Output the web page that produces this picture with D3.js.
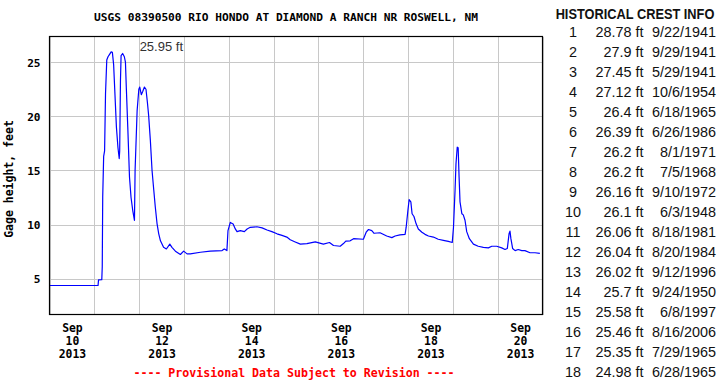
<!DOCTYPE html>
<html>
<head>
<meta charset="utf-8">
<script src="https://cdn.jsdelivr.net/npm/d3@7"></script>
<style>
  body { margin: 0; background: #fff; }
  .mono { font-family: "DejaVu Sans Mono", monospace; font-weight: bold; fill: #000; }
  .crest { font-family: "Liberation Sans", Arial, sans-serif; font-size: 14.4px; fill: #111; }
</style>
</head>
<body>
<script>

// gage readings (15-min data, thinned)
var gageTimes = [
  "09-10 00:00", "09-11 02:00", "09-11 02:15", "09-11 04:00", "09-11 04:15", "09-11 04:30",
  "09-11 05:00", "09-11 05:30", "09-11 06:00", "09-11 06:40", "09-11 07:20", "09-11 08:05",
  "09-11 09:00", "09-11 09:40", "09-11 10:20", "09-11 11:50", "09-11 12:40", "09-11 13:20",
  "09-11 13:35", "09-11 14:00", "09-11 14:20", "09-11 15:10", "09-11 16:05", "09-11 16:40",
  "09-11 17:10", "09-11 17:55", "09-11 18:50", "09-11 19:40", "09-11 20:35", "09-11 21:30",
  "09-11 21:50", "09-11 22:55", "09-11 23:50", "09-12 00:20", "09-12 01:10", "09-12 01:55",
  "09-12 02:50", "09-12 03:40", "09-12 04:25", "09-12 05:05", "09-12 06:00", "09-12 06:55",
  "09-12 07:50", "09-12 08:40", "09-12 09:35", "09-12 10:30", "09-12 11:25", "09-12 13:05",
  "09-12 14:35", "09-12 16:25", "09-12 17:35", "09-12 19:25", "09-12 22:05", "09-12 23:50",
  "09-13 01:40", "09-13 03:25", "09-13 08:50", "09-13 14:05", "09-13 20:25", "09-13 21:35",
  "09-13 23:00", "09-13 23:35", "09-14 00:50", "09-14 02:20", "09-14 03:30", "09-14 04:25",
  "09-14 06:10", "09-14 08:20", "09-14 09:50", "09-14 11:30", "09-14 15:05", "09-14 17:50",
  "09-14 20:30", "09-14 23:05", "09-15 01:50", "09-15 04:30", "09-15 07:05", "09-15 08:55",
  "09-15 11:35", "09-15 14:20", "09-15 17:50", "09-15 22:20", "09-16 02:40", "09-16 05:55",
  "09-16 08:05", "09-16 11:40", "09-16 13:25", "09-16 14:40", "09-16 17:00", "09-16 18:50",
  "09-17 00:05", "09-17 01:35", "09-17 02:50", "09-17 04:35", "09-17 05:50", "09-17 09:00",
  "09-17 12:35", "09-17 15:20", "09-17 17:05", "09-17 19:40", "09-17 22:25", "09-17 23:00",
  "09-17 23:55", "09-18 00:35", "09-18 01:30", "09-18 02:10", "09-18 03:10", "09-18 04:20",
  "09-18 05:30", "09-18 07:25", "09-18 09:05", "09-18 10:55", "09-18 13:35", "09-18 16:10",
  "09-18 18:55", "09-18 21:35", "09-18 23:40", "09-19 00:20", "09-19 01:10", "09-19 01:40",
  "09-19 02:20", "09-19 02:50", "09-19 03:20", "09-19 03:50", "09-19 04:50", "09-19 05:35",
  "09-19 06:30", "09-19 07:25", "09-19 08:50", "09-19 11:00", "09-19 13:35", "09-19 16:20",
  "09-19 19:00", "09-19 20:50", "09-19 23:30", "09-20 02:10", "09-20 03:55", "09-20 05:10",
  "09-20 06:05", "09-20 06:35", "09-20 07:05", "09-20 08:00", "09-20 09:20", "09-20 11:00",
  "09-20 12:55", "09-20 14:35", "09-20 17:20", "09-20 20:00", "09-20 22:35"
];
var gageHeights = [
  4.38, 4.38, 4.9, 4.92, 6.1, 12.6,
  16.3, 16.8, 22.1, 25.2, 25.5, 25.7,
  25.95, 25.9, 24.8, 19.0, 17.1, 16.1,
  16.8, 23.3, 25.6, 25.8, 25.5, 25.0,
  22.5, 19.0, 14.4, 12.5, 11.3, 10.4,
  15.0, 20.5, 22.5, 22.7, 22.0, 22.3,
  22.7, 22.5, 21.3, 20.1, 17.8, 15.0,
  13.2, 11.6, 10.1, 9.15, 8.5, 7.9,
  7.75, 8.2, 7.9, 7.55, 7.24, 7.55,
  7.3, 7.3, 7.45, 7.55, 7.6, 7.75,
  7.6, 9.45, 10.2, 10.05, 9.6, 9.35,
  9.45, 9.35, 9.6, 9.75, 9.8, 9.7,
  9.5, 9.35, 9.15, 9.0, 8.85, 8.6,
  8.4, 8.2, 8.25, 8.4, 8.2, 8.35,
  8.07, 8.0, 8.25, 8.47, 8.5, 8.7,
  8.65, 9.3, 9.55, 9.45, 9.2, 9.25,
  8.95, 8.8, 8.95, 9.05, 9.1, 9.76,
  11.3, 12.3, 12.1, 11.0, 10.75, 10.07,
  9.6, 9.3, 9.1, 8.95, 8.85, 8.65,
  8.55, 8.45, 8.35, 9.76, 13.15, 15.6,
  17.15, 17.1, 14.4, 12.1, 11.0, 10.9,
  10.4, 9.35, 8.7, 8.2, 8.0, 7.9,
  7.85, 8.0, 8.0, 7.85, 7.7, 7.8,
  9.15, 9.4, 8.7, 7.8, 7.6, 7.7,
  7.6, 7.6, 7.4, 7.4, 7.35
];

var yTicks = [5, 10, 15, 20, 25];
var xLabelDays = ["09-10", "09-12", "09-14", "09-16", "09-18", "09-20"];
var peakText = "25.95 ft";

var crestRanks = [1, 2, 3, 4, 5, 6, 7, 8, 9, 10, 11, 12, 13, 14, 15, 16, 17, 18];
var crestHeights = [28.78, 27.9, 27.45, 27.12, 26.4, 26.39, 26.2, 26.2, 26.16,
  26.1, 26.06, 26.04, 26.02, 25.7, 25.58, 25.46, 25.35, 24.98];
var crestDates = ["9/22/1941", "9/29/1941", "5/29/1941", "10/6/1954", "6/18/1965",
  "6/26/1986", "8/1/1971", "7/5/1968", "9/10/1972", "6/3/1948", "8/18/1981",
  "8/20/1984", "9/12/1996", "9/24/1950", "6/8/1997", "8/16/2006", "7/29/1965", "6/28/1965"];

var svgWidth = 720;
var svgHeight = 380;
var margin = { top: 36.5, left: 49.5 };
var width = 493;
var height = 278;

var parseTime = d3.timeParse("%Y-%m-%d %H:%M");
var data = gageTimes.map(function (t, i) {
  return { date: parseTime("2013-" + t), value: gageHeights[i] };
});

var svg = d3.select("body")
  .append("svg")
  .attr("width", svgWidth)
  .attr("height", svgHeight);

var chartGroup = svg.append("g")
  .attr("transform", `translate(${margin.left}, ${margin.top})`);

// scales
var xTimeScale = d3.scaleTime()
  .domain([parseTime("2013-09-10 00:00"), parseTime("2013-09-21 00:00")])
  .range([0, width]);

var yLinearScale = d3.scaleLinear()
  .domain([1.7, 27.37])
  .range([height, 0]);

// grid lines
chartGroup.append("g")
  .attr("class", "grid")
  .call(d3.axisLeft(yLinearScale).tickValues(yTicks).tickSize(-width).tickFormat(""))
  .call(g => g.select(".domain").remove());

chartGroup.append("g")
  .attr("class", "grid")
  .attr("transform", `translate(0, ${height})`)
  .call(d3.axisBottom(xTimeScale).ticks(d3.timeDay.every(1)).tickSize(-height).tickFormat(""))
  .call(g => g.select(".domain").remove());

chartGroup.selectAll(".grid line")
  .attr("stroke", "#c8c8c8")
  .attr("shape-rendering", "crispEdges");

// y tick labels
var yAxis = chartGroup.append("g")
  .call(d3.axisLeft(yLinearScale).tickValues(yTicks).tickSize(0).tickPadding(9));
yAxis.select(".domain").remove();
yAxis.selectAll("text")
  .attr("class", "mono")
  .attr("font-size", "11.1px")
  .attr("dy", "0.36em");

// x tick labels, three lines each, centred at noon
var xAxis = chartGroup.append("g")
  .attr("transform", `translate(0, ${height})`)
  .call(d3.axisBottom(xTimeScale)
    .tickValues(xLabelDays.map(d => parseTime("2013-" + d + " 12:00")))
    .tickSize(0)
    .tickFormat(""));
xAxis.select(".domain").remove();
xAxis.selectAll(".tick text")
  .attr("class", "mono")
  .attr("font-size", "11.4px")
  .attr("y", 0)
  .attr("dy", 0)
  .each(function (d) {
    var t = d3.select(this);
    var lines = [d3.timeFormat("%b")(d), d3.timeFormat("%d")(d), d3.timeFormat("%Y")(d)];
    lines.forEach(function (s, i) {
      t.append("tspan").attr("x", 0).attr("y", 17.5 + i * 13.2).text(s);
    });
  });

// gage line
var line = d3.line()
  .x(d => xTimeScale(d.date))
  .y(d => yLinearScale(d.value));

chartGroup.append("path")
  .datum(data)
  .attr("fill", "none")
  .attr("stroke", "#0000ff")
  .attr("stroke-width", 1.2)
  .attr("stroke-linejoin", "round")
  .attr("d", line);

// plot border
chartGroup.append("rect")
  .attr("width", width)
  .attr("height", height)
  .attr("fill", "none")
  .attr("stroke", "#000")
  .attr("stroke-width", 1.2);

// peak annotation
chartGroup.append("text")
  .attr("x", xTimeScale(parseTime("2013-09-12 00:00")) + 0.5)
  .attr("y", 14.2)
  .attr("font-family", "Liberation Sans, Arial, sans-serif")
  .attr("font-size", "13px")
  .attr("fill", "#333")
  .text(peakText);

// title, axis label, footer
svg.append("text")
  .attr("class", "mono")
  .attr("x", 286)
  .attr("y", 20.5)
  .attr("font-size", "11.2px")
  .attr("text-anchor", "middle")
  .text("USGS 08390500 RIO HONDO AT DIAMOND A RANCH NR ROSWELL, NM");

svg.append("text")
  .attr("class", "mono")
  .attr("transform", "rotate(-90)")
  .attr("x", -179)
  .attr("y", 13)
  .attr("font-size", "11.5px")
  .attr("text-anchor", "middle")
  .text("Gage height, feet");

svg.append("text")
  .attr("class", "mono")
  .attr("x", 294)
  .attr("y", 376.5)
  .attr("font-size", "11.6px")
  .attr("text-anchor", "middle")
  .style("fill", "#ff0000")
  .text("---- Provisional Data Subject to Revision ----");

// historical crest table
var table = svg.append("g");

// narrow bold header: smaller font stretched vertically
table.append("text")
  .attr("transform", "translate(635, 18.5) scale(1, 1.14)")
  .attr("text-anchor", "middle")
  .attr("font-family", "Liberation Sans, Arial, sans-serif")
  .attr("font-weight", "bold")
  .attr("font-size", "12.8px")
  .attr("fill", "#111")
  .text("HISTORICAL CREST INFO");

var rows = table.selectAll(".crestRow")
  .data(crestRanks)
  .enter()
  .append("g")
  .attr("class", "crestRow")
  .attr("transform", (d, i) => `translate(0, ${37 + i * 20})`);

rows.append("text")
  .attr("class", "crest")
  .attr("x", 573)
  .attr("text-anchor", "middle")
  .text(d => d);

rows.append("text")
  .attr("class", "crest")
  .attr("x", 643.5)
  .attr("text-anchor", "end")
  .text((d, i) => crestHeights[i] + " ft");

rows.append("text")
  .attr("class", "crest")
  .attr("x", 716)
  .attr("text-anchor", "end")
  .text((d, i) => crestDates[i]);

</script>
</body>
</html>
